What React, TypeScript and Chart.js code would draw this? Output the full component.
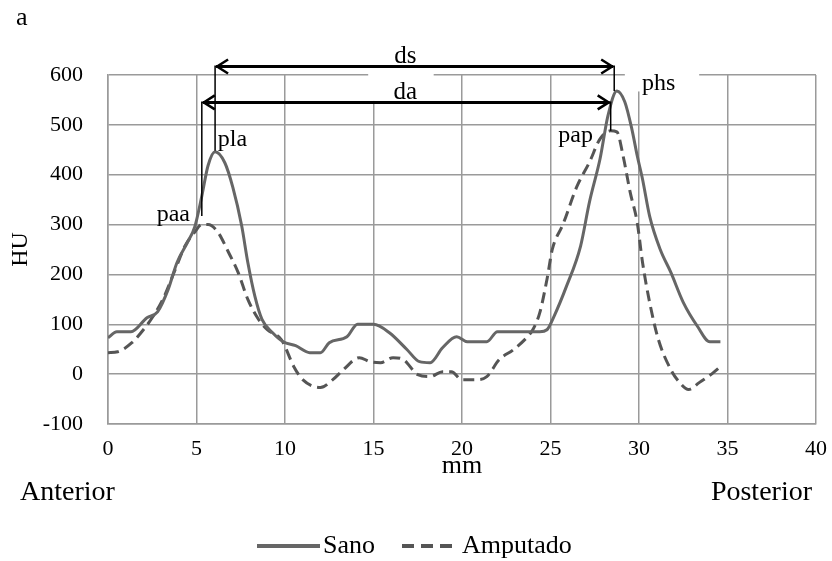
import React, { useEffect, useRef } from 'react';
import { Chart, registerables } from 'chart.js';

Chart.register(...registerables);

const FONT = '"Liberation Serif", "Times New Roman", serif';

// Data (mm, HU)
const sanoX = [0, 0.5, 1.3, 2.2, 2.8, 3.4, 3.9, 4.5, 4.9, 5.3, 5.65, 6.05, 6.6, 7.05, 7.55, 7.9, 8.3, 8.7, 9.3, 9.9, 10.6, 11.4, 12.0, 12.5, 13.5, 14.1, 15.0, 15.9, 16.9, 17.6, 18.2, 18.9, 19.7, 20.3, 21.4, 22.0, 24.4, 24.8, 25.2, 25.9, 26.7, 27.2, 27.8, 28.25, 28.75, 29.2, 29.6, 29.9, 30.2, 30.6, 31.2, 31.8, 32.5, 33.3, 34.0, 34.6];
const sanoY = [73, 85, 85, 113, 125, 170, 224, 265, 295, 357, 418, 446, 424, 375, 298, 224, 156, 110, 83, 65, 57, 43, 43, 63, 75, 100, 100, 83, 49, 25, 23, 53, 75, 65, 65, 85, 85, 89, 116, 176, 257, 345, 432, 519, 568, 546, 491, 438, 391, 317, 250, 204, 144, 96, 65, 65];

const ampX = [0, 0.55, 1.35, 2.0, 2.55, 3.1, 3.8, 4.35, 4.9, 5.3, 5.65, 6.2, 6.8, 7.35, 7.9, 8.5, 9.0, 9.8, 10.5, 11.0, 12.0, 12.7, 13.3, 14.2, 14.8, 15.4, 16.1, 16.7, 17.5, 18.2, 18.9, 19.4, 20.0, 20.8, 21.4, 22.1, 22.9, 23.7, 24.0, 24.4, 24.8, 25.1, 25.7, 26.5, 27.2, 27.8, 28.4, 28.75, 29.1, 29.5, 29.9, 30.2, 30.6, 31.1, 31.8, 32.3, 32.8, 33.4, 34.2, 34.6];
const ampY = [43, 45, 63, 89, 116, 150, 210, 257, 285, 300, 300, 285, 245, 204, 150, 110, 89, 69, 15, -11, -27, -11, 9, 33, 25, 23, 33, 29, -1, -5, 5, 5, -11, -11, -5, 29, 49, 75, 89, 124, 190, 250, 300, 377, 425, 472, 488, 486, 438, 365, 304, 224, 144, 69, 9, -17, -31, -17, 3, 15];

const seriesNames = ['Sano', 'Amputado'];
const xTicks = [0, 5, 10, 15, 20, 25, 30, 35, 40];
const yTicks = [-100, 0, 100, 200, 300, 400, 500, 600];

// Annotations (data units)
const arrows = [
  { label: 'ds', x0: 6.05, x1: 28.6, y: 617, drop0: 448, drop1: 568, lx: 16.8, ly: 637 },
  { label: 'da', x0: 5.3, x1: 28.4, y: 545, drop0: 317, drop1: 488, lx: 16.8, ly: 566 },
];
const pointLabels = [
  { text: 'pla', x: 6.2, y: 470, align: 'left' },
  { text: 'paa', x: 4.63, y: 319, align: 'right' },
  { text: 'pap', x: 27.4, y: 478, align: 'right' },
  { text: 'phs', x: 30.17, y: 582, align: 'left' },
];
const whiteBoxes = [
  { x0: 14.7, x1: 18.4, y0: 548, y1: 604 },
  { x0: 29.2, x1: 33.4, y0: 567, y1: 604 },
];

const toPts = (xs: number[], ys: number[]) => xs.map((x, i) => ({ x, y: ys[i] }));

const annotPlugin = {
  id: 'annot',
  beforeDatasetsDraw(chart: any) {
    const { ctx, scales } = chart;
    const x = scales.x, y = scales.y;
    ctx.save();
    ctx.fillStyle = '#ffffff';
    for (const b of whiteBoxes) {
      const px0 = x.getPixelForValue(b.x0), px1 = x.getPixelForValue(b.x1);
      const py0 = y.getPixelForValue(b.y1), py1 = y.getPixelForValue(b.y0);
      ctx.fillRect(px0, py0, px1 - px0, py1 - py0);
    }
    ctx.restore();
  },
  afterDraw(chart: any) {
    const { ctx, scales, chartArea } = chart;
    const x = scales.x, y = scales.y;
    ctx.save();
    ctx.strokeStyle = '#000';
    ctx.fillStyle = '#000';
    for (const a of arrows) {
      const px0 = x.getPixelForValue(a.x0), px1 = x.getPixelForValue(a.x1);
      const py = y.getPixelForValue(a.y);
      ctx.lineWidth = 3;
      ctx.setLineDash([]);
      ctx.beginPath();
      ctx.moveTo(px0 + 1, py);
      ctx.lineTo(px1 - 1, py);
      ctx.stroke();
      ctx.lineWidth = 2.5;
      ctx.beginPath();
      ctx.moveTo(px0 + 13, py - 7);
      ctx.lineTo(px0 + 2, py);
      ctx.lineTo(px0 + 13, py + 7);
      ctx.moveTo(px1 - 13, py - 7);
      ctx.lineTo(px1 - 2, py);
      ctx.lineTo(px1 - 13, py + 7);
      ctx.stroke();
      ctx.lineWidth = 1.5;
      ctx.beginPath();
      ctx.moveTo(px0, py - 1);
      ctx.lineTo(px0, y.getPixelForValue(a.drop0));
      ctx.moveTo(px1, py - 1);
      ctx.lineTo(px1, y.getPixelForValue(a.drop1));
      ctx.stroke();
      ctx.font = `25px ${FONT}`;
      ctx.textAlign = 'center';
      ctx.textBaseline = 'middle';
      ctx.fillText(a.label, x.getPixelForValue(a.lx), y.getPixelForValue(a.ly));
    }
    ctx.font = `24px ${FONT}`;
    ctx.textBaseline = 'middle';
    for (const l of pointLabels) {
      ctx.textAlign = l.align as CanvasTextAlign;
      ctx.fillText(l.text, x.getPixelForValue(l.x), y.getPixelForValue(l.y));
    }
    ctx.font = `26px ${FONT}`;
    ctx.textAlign = 'center';
    ctx.fillText('mm', (chartArea.left + chartArea.right) / 2, chartArea.bottom + 42);
    ctx.font = `28px ${FONT}`;
    ctx.textAlign = 'left';
    ctx.fillText('Anterior', 20, chartArea.bottom + 69);
    ctx.textAlign = 'right';
    ctx.fillText('Posterior', chartArea.right - 4, chartArea.bottom + 69);
    ctx.save();
    ctx.font = `24px ${FONT}`;
    ctx.translate(21, (chartArea.top + chartArea.bottom) / 2);
    ctx.rotate(-Math.PI / 2);
    ctx.textAlign = 'center';
    ctx.fillText('HU', 0, 0);
    ctx.restore();
    ctx.font = `26px ${FONT}`;
    ctx.textAlign = 'left';
    ctx.fillText('a', 16, 18);
    const ly = chartArea.bottom + 122;
    const ds = chart.data.datasets;
    ctx.font = `26px ${FONT}`;
    const items = [
      { x0: 257, x1: 320, tx: 323 },
      { x0: 402, x1: 458, tx: 462 },
    ];
    items.forEach((it, i) => {
      const d = ds[i];
      ctx.strokeStyle = d.borderColor;
      ctx.lineWidth = 4;
      ctx.setLineDash(d.borderDash ? [12, 7] : []);
      ctx.beginPath();
      ctx.moveTo(it.x0, ly);
      ctx.lineTo(it.x1, ly);
      ctx.stroke();
      ctx.setLineDash([]);
      ctx.fillStyle = '#000';
      ctx.textAlign = 'left';
      ctx.fillText(d.label, it.tx, ly);
    });
    ctx.restore();
  },
};

export default function App() {
  const ref = useRef<HTMLCanvasElement | null>(null);
  useEffect(() => {
    document.body.style.margin = '0';
    const canvas = ref.current!;
    const chart = new Chart(canvas, {
      type: 'line',
      data: {
        datasets: [
          {
            label: seriesNames[0],
            data: toPts(sanoX, sanoY),
            borderColor: '#666666',
            borderWidth: 3,
            pointRadius: 0,
            cubicInterpolationMode: 'monotone',
            fill: false,
          },
          {
            label: seriesNames[1],
            data: toPts(ampX, ampY),
            borderColor: '#555555',
            borderWidth: 3,
            borderDash: [11, 6],
            pointRadius: 0,
            cubicInterpolationMode: 'monotone',
            fill: false,
          },
        ],
      },
      options: {
        responsive: false,
        animation: false,
        layout: { padding: { left: 0, right: 16, top: 75, bottom: 0 } },
        plugins: { legend: { display: false }, tooltip: { enabled: false } },
        scales: {
          x: {
            type: 'linear',
            min: 0,
            max: 40,
            afterBuildTicks: (s: any) => { s.ticks = xTicks.map((v) => ({ value: v })); },
            afterFit: (s: any) => { s.height = 137; s.paddingLeft = 0; s.paddingRight = 0; },
            grid: { color: '#9a9a9a', lineWidth: 1.5, drawTicks: false },
            border: { color: '#9a9a9a', width: 1.5 },
            ticks: { color: '#000', font: { family: FONT, size: 22 }, padding: 12, maxRotation: 0 },
          },
          y: {
            min: -100,
            max: 600,
            afterBuildTicks: (s: any) => { s.ticks = yTicks.map((v) => ({ value: v })); },
            afterFit: (s: any) => { s.width = 108; s.paddingTop = 0; s.paddingBottom = 0; },
            grid: { color: '#9a9a9a', lineWidth: 1.5, drawTicks: false },
            border: { color: '#9a9a9a', width: 1.5 },
            ticks: { color: '#000', font: { family: FONT, size: 22 }, padding: 25 },
          },
        },
      },
      plugins: [annotPlugin],
    });
    return () => chart.destroy();
  }, []);
  return <canvas ref={ref} width={832} height={561} style={{ display: 'block' }} />;
}
